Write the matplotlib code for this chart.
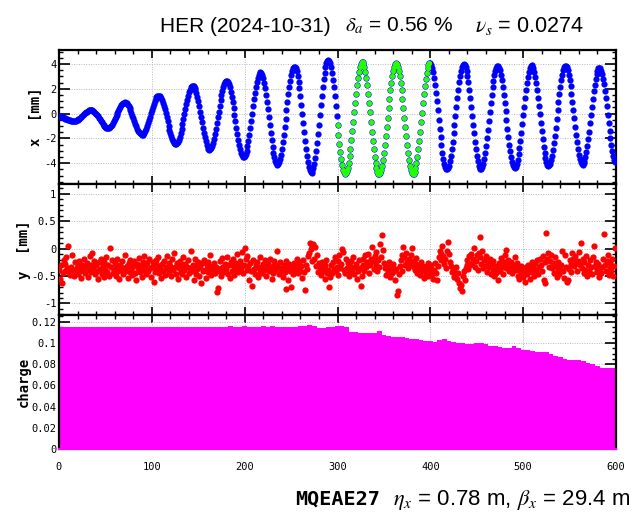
import matplotlib
matplotlib.use("Agg")
import matplotlib.pyplot as plt
import numpy as np
from matplotlib.ticker import MultipleLocator, FormatStrFormatter

# horizontal orbit per turn [mm]
x_mm = [
    -0.21, -0.23, -0.25, -0.27, -0.30, -0.33, -0.36, -0.40, -0.43, -0.46, -0.50, -0.52, -0.55, -0.57, -0.59, -0.60, -0.60,
    -0.60, -0.58, -0.55, -0.51, -0.46, -0.40, -0.33, -0.26, -0.18, -0.10, -0.03, 0.05, 0.11, 0.17, 0.22, 0.26, 0.29, 0.30,
    0.30, 0.28, 0.23, 0.17, 0.09, 0.00, -0.11, -0.22, -0.35, -0.47, -0.60, -0.71, -0.82, -0.92, -1.00, -1.07, -1.12, -1.14, -1.15,
    -1.13, -1.07, -0.99, -0.89, -0.76, -0.61, -0.45, -0.28, -0.10, 0.07, 0.24, 0.40, 0.54, 0.67, 0.77, 0.84, 0.89,
    0.90, 0.88, 0.82, 0.73, 0.60, 0.45, 0.27, 0.07, -0.15, -0.37, -0.60, -0.81, -1.02, -1.20, -1.37, -1.50, -1.60, -1.67, -1.70,
    -1.69, -1.63, -1.53, -1.38, -1.20, -0.99, -0.75, -0.50, -0.23, 0.04, 0.31, 0.56, 0.80, 1.00, 1.17, 1.31, 1.40, 1.44,
    1.44, 1.39, 1.27, 1.11, 0.89, 0.64, 0.35, 0.04, -0.29, -0.63, -0.96, -1.28, -1.57, -1.83, -2.06, -2.24, -2.36, -2.43, -2.45,
    -2.40, -2.28, -2.09, -1.85, -1.55, -1.22, -0.84, -0.45, -0.05, 0.35, 0.74, 1.11, 1.43, 1.71, 1.94, 2.11, 2.21,
    2.25, 2.21, 2.10, 1.92, 1.66, 1.35, 1.00, 0.60, 0.17, -0.27, -0.71, -1.14, -1.55, -1.92, -2.24, -2.51, -2.71, -2.84, -2.90,
    -2.88, -2.78, -2.59, -2.34, -2.02, -1.65, -1.23, -0.78, -0.31, 0.17, 0.64, 1.09, 1.50, 1.86, 2.16, 2.40, 2.56, 2.64,
    2.64, 2.55, 2.37, 2.11, 1.77, 1.37, 0.92, 0.42, -0.10, -0.62, -1.15, -1.65, -2.11, -2.53, -2.88, -3.16, -3.36, -3.48, -3.50,
    -3.42, -3.25, -2.98, -2.62, -2.20, -1.70, -1.16, -0.59, 0.00, 0.59, 1.15, 1.68, 2.16, 2.57, 2.90, 3.15, 3.30,
    3.35, 3.29, 3.13, 2.87, 2.50, 2.05, 1.54, 0.96, 0.34, -0.29, -0.93, -1.56, -2.14, -2.68, -3.15, -3.53, -3.82, -4.01, -4.10,
    -4.07, -3.92, -3.67, -3.31, -2.85, -2.32, -1.72, -1.08, -0.41, 0.27, 0.94, 1.58, 2.16, 2.67, 3.10, 3.44, 3.67, 3.78,
    3.78, 3.66, 3.41, 3.05, 2.58, 2.03, 1.39, 0.70, -0.02, -0.75, -1.48, -2.18, -2.82, -3.40, -3.89, -4.28, -4.56, -4.72, -4.75,
    -4.65, -4.41, -4.06, -3.59, -3.02, -2.36, -1.64, -0.88, -0.10, 0.68, 1.43, 2.13, 2.77, 3.31, 3.76, 4.08, 4.28,
    4.35, 4.28, 4.08, 3.75, 3.30, 2.75, 2.11, 1.40, 0.64, -0.15, -0.94, -1.71, -2.44, -3.10, -3.67, -4.15, -4.51, -4.74, -4.85,
    -4.81, -4.65, -4.36, -3.95, -3.43, -2.82, -2.14, -1.41, -0.64, 0.13, 0.89, 1.62, 2.28, 2.87, 3.36, 3.74, 4.00, 4.13,
    4.13, 4.00, 3.74, 3.35, 2.86, 2.27, 1.60, 0.87, 0.11, -0.67, -1.44, -2.18, -2.86, -3.47, -3.99, -4.40, -4.70, -4.86, -4.90,
    -4.80, -4.57, -4.22, -3.75, -3.19, -2.55, -1.84, -1.10, -0.33, 0.44, 1.18, 1.87, 2.49, 3.03, 3.47, 3.79, 3.98,
    4.05, 3.98, 3.79, 3.47, 3.03, 2.49, 1.87, 1.18, 0.44, -0.33, -1.10, -1.84, -2.55, -3.19, -3.75, -4.22, -4.57, -4.80, -4.90,
    -4.86, -4.70, -4.41, -4.00, -3.48, -2.87, -2.19, -1.46, -0.69, 0.08, 0.84, 1.57, 2.23, 2.82, 3.31, 3.69, 3.95, 4.08,
    4.08, 3.96, 3.71, 3.34, 2.87, 2.32, 1.68, 0.99, 0.26, -0.48, -1.21, -1.91, -2.56, -3.14, -3.64, -4.03, -4.31, -4.47, -4.50,
    -4.40, -4.19, -3.85, -3.41, -2.88, -2.27, -1.60, -0.89, -0.16, 0.57, 1.27, 1.93, 2.52, 3.03, 3.45, 3.75, 3.94,
    4.00, 3.94, 3.75, 3.45, 3.03, 2.52, 1.93, 1.27, 0.57, -0.16, -0.89, -1.60, -2.27, -2.88, -3.41, -3.85, -4.19, -4.40, -4.50,
    -4.47, -4.31, -4.04, -3.66, -3.18, -2.62, -1.99, -1.31, -0.60, 0.12, 0.83, 1.50, 2.12, 2.66, 3.12, 3.47, 3.71, 3.83,
    3.83, 3.71, 3.48, 3.13, 2.68, 2.15, 1.54, 0.88, 0.19, -0.52, -1.21, -1.88, -2.50, -3.05, -3.53, -3.90, -4.17, -4.32, -4.35,
    -4.26, -4.04, -3.72, -3.29, -2.78, -2.18, -1.53, -0.84, -0.13, 0.57, 1.25, 1.89, 2.46, 2.96, 3.36, 3.66, 3.84,
    3.90, 3.84, 3.66, 3.37, 2.98, 2.49, 1.93, 1.30, 0.63, -0.06, -0.76, -1.43, -2.07, -2.66, -3.16, -3.58, -3.90, -4.11, -4.20,
    -4.17, -4.02, -3.76, -3.39, -2.93, -2.38, -1.78, -1.12, -0.44, 0.26, 0.94, 1.58, 2.18, 2.70, 3.14, 3.48, 3.72, 3.83,
    3.83, 3.72, 3.49, 3.15, 2.72, 2.20, 1.61, 0.97, 0.30, -0.38, -1.06, -1.71, -2.31, -2.84, -3.30, -3.66, -3.92, -4.07, -4.10,
    -4.01, -3.81, -3.51, -3.10, -2.61, -2.05, -1.44, -0.79, -0.11, 0.55, 1.20, 1.80, 2.34, 2.81, 3.19, 3.47, 3.64,
    3.70, 3.64, 3.47, 3.20, 2.82, 2.36, 1.83, 1.23, 0.59, -0.07, -0.73, -1.37, -1.98, -2.53, -3.01, -3.41, -3.71, -3.91,
]

# vertical orbit per turn [mm]
y_mm = [
    -0.38, -0.55, -0.30, -0.62, -0.45, -0.20, -0.41, -0.28, -0.15, -0.35, 0.05, -0.42, -0.48, -0.33, -0.12, -0.39, -0.50, -0.25, -0.44, -0.36,
    -0.31, -0.47, -0.22, -0.40, -0.53, -0.29, -0.36, -0.18, -0.45, -0.33, -0.26, -0.51, -0.38, -0.14, -0.30, -0.43, -0.08, -0.35, -0.22, -0.47,
    -0.29, -0.40, -0.55, -0.25, -0.37, -0.19, -0.46, -0.31, -0.52, -0.24, -0.38, -0.15, -0.43, -0.30, -0.49, 0.02, -0.34, -0.21, -0.44, -0.37,
    -0.27, -0.50, -0.33, -0.18, -0.41, -0.56, -0.29, -0.38, -0.23, -0.46, -0.35, -0.12, -0.40, -0.31, -0.54, -0.26, -0.43, -0.20, -0.37, -0.48,
    -0.32, -0.22, -0.45, -0.58, -0.28, -0.36, -0.17, -0.42, -0.30, -0.51, -0.24, -0.39, -0.14, -0.33, -0.47, -0.27, -0.41, -0.19, -0.36, -0.52,
    -0.34, -0.25, -0.60, -0.43, -0.21, -0.38, -0.30, -0.16, -0.45, -0.35, -0.53, -0.28, -0.40, -0.22, -0.48, -0.33, -0.13, -0.37, -0.26, -0.44,
    -0.31, -0.50, -0.19, -0.39, -0.08, -0.34, -0.46, -0.27, -0.55, -0.36, -0.23, -0.42, -0.30, -0.47, -0.15, -0.38, -0.28, -0.52, -0.33, -0.21,
    -0.44, -0.36, -0.05, -0.40, -0.29, -0.57, -0.32, -0.18, -0.46, -0.37, -0.25, -0.49, -0.34, -0.62, -0.27, -0.41, -0.20, -0.38, -0.53, -0.30,
    -0.43, -0.24, -0.35, -0.11, -0.48, -0.31, -0.39, -0.26, -0.45, -0.33, -0.79, -0.72, -0.40, -0.22, -0.36, -0.50, -0.17, -0.34, -0.42, -0.28,
    -0.37, -0.15, -0.46, -0.30, -0.54, -0.25, -0.41, -0.19, -0.33, -0.48, -0.27, -0.38, -0.10, -0.43, -0.31, -0.22, -0.35, -0.06, -0.44, -0.29,
    0.02, -0.18, -0.39, -0.13, -0.32, -0.58, -0.26, -0.41, -0.68, -0.21, -0.37, -0.47, -0.30, -0.24, -0.52, -0.35, -0.42, -0.16, -0.33, -0.45,
    -0.28, -0.39, -0.21, -0.49, -0.34, -0.27, -0.40, -0.19, -0.36, -0.55, -0.31, -0.44, -0.23, -0.38, -0.29, -0.05, -0.33, -0.46, -0.25, -0.40,
    -0.35, -0.51, -0.30, -0.43, -0.22, -0.74, -0.37, -0.58, -0.28, -0.41, -0.70, -0.34, -0.47, -0.26, -0.39, -0.31, -0.18, -0.44, -0.36, -0.25,
    -0.40, -0.32, -0.53, -0.20, -0.43, -0.75, -0.29, -0.37, -0.14, -0.08, 0.10, -0.01, 0.05, -0.22, 0.08, -0.19, 0.04, -0.31, -0.12, -0.42,
    -0.27, -0.36, -0.48, -0.24, -0.40, -0.33, -0.56, -0.29, -0.21, -0.45, -0.38, -0.70, -0.52, -0.30, -0.44, -0.25, -0.37, -0.16, -0.41, -0.33,
    -0.23, -0.48, -0.12, -0.35, -0.28, 0.00, -0.06, -0.39, -0.45, -0.19, -0.36, -0.27, -0.50, -0.31, -0.42, -0.22, -0.38, -0.15, -0.46, -0.33,
    -0.28, -0.55, -0.40, -0.21, -0.36, -0.68, -0.49, -0.30, -0.19, -0.41, -0.11, -0.34, -0.25, -0.09, -0.44, -0.30, -0.18, 0.03, -0.23, -0.37,
    -0.14, -0.29, -0.06, -0.40, -0.20, -0.33, 0.08, -0.15, 0.25, -0.02, -0.27, -0.36, -0.48, -0.31, -0.43, -0.24, -0.39, -0.52, -0.33, -0.45,
    -0.28, -0.41, -0.57, -0.37, -0.84, -0.78, -0.46, -0.32, -0.21, -0.40, -0.12, 0.04, -0.16, -0.30, -0.07, -0.24, -0.35, -0.19, -0.29, -0.11,
    0.02, -0.22, -0.33, -0.26, -0.38, -0.17, -0.44, -0.29, -0.36, -0.48, -0.25, -0.41, -0.31, -0.53, -0.34, -0.46, -0.39, -0.27, -0.50, -0.43,
    -0.35, -0.30, -0.47, -0.55, -0.38, -0.26, -0.44, -0.58, -0.32, -0.15, -0.05, -0.21, -0.09, 0.05, -0.13, -0.28, -0.18, -0.36, -0.04, 0.12,
    -0.10, -0.24, -0.31, -0.43, -0.36, -0.52, -0.40, -0.47, -0.34, -0.56, -0.45, -0.62, -0.72, -0.66, -0.77, -0.50, -0.41, -0.58, -0.35, -0.29,
    -0.21, -0.37, -0.14, -0.30, -0.09, -0.26, -0.18, 0.01, -0.33, -0.22, -0.12, -0.38, -0.07, 0.22, -0.16, -0.28, -0.04, -0.35, -0.20, -0.31,
    -0.13, -0.42, -0.25, -0.33, -0.19, -0.47, -0.28, -0.38, -0.22, -0.50, -0.31, -0.44, -0.36, -0.58, -0.27, -0.40, -0.17, -0.33, -0.46, -0.24,
    -0.12, -0.35, -0.02, -0.29, -0.20, -0.41, -0.33, -0.24, -0.45, -0.37, -0.30, -0.16, -0.38, -0.27, -0.49, -0.34, -0.56, -0.40, -0.31, -0.45,
    -0.52, -0.38, -0.60, -0.33, -0.47, -0.29, -0.41, -0.55, -0.36, -0.24, -0.43, -0.32, -0.50, -0.27, -0.38, -0.21, -0.46, -0.34, -0.19, -0.30,
    -0.40, -0.14, -0.58, -0.62, -0.25, 0.28, -0.18, -0.08, -0.33, -0.22, -0.11, -0.36, -0.27, -0.44, -0.16, -0.31, -0.52, -0.38, -0.24, -0.47,
    -0.35, -0.29, -0.05, -0.41, -0.53, -0.12, -0.33, -0.60, -0.58, -0.37, -0.21, -0.43, -0.28, -0.08, -0.19, -0.32, -0.14, -0.26, -0.40, -0.22,
    -0.06, -0.30, 0.10, -0.35, -0.18, -0.45, -0.25, -0.38, -0.13, -0.50, -0.29, -0.41, -0.20, -0.34, -0.47, -0.15, 0.05, -0.31, -0.24, -0.39,
    -0.43, -0.28, -0.52, -0.36, -0.45, -0.33, -0.19, 0.27, -0.30, -0.41, -0.23, -0.11, -0.48, -0.35, -0.26, -0.40, -0.18, -0.49, -0.32, 0.01,
]

# bunch charge, sampled every 5 turns
charge_turns = list(range(0, 601, 5))
charge = [
    0.1152, 0.1150, 0.1153, 0.1149, 0.1151, 0.1146, 0.1150, 0.1152, 0.1148, 0.1151,
    0.1153, 0.1150, 0.1147, 0.1151, 0.1149, 0.1152, 0.1150, 0.1148, 0.1151, 0.1153,
    0.1150, 0.1148, 0.1151, 0.1149, 0.1152, 0.1150, 0.1146, 0.1150, 0.1153, 0.1151,
    0.1149, 0.1152, 0.1150, 0.1154, 0.1151, 0.1149, 0.1152, 0.1155, 0.1151, 0.1154,
    0.1162, 0.1153, 0.1150, 0.1154, 0.1156, 0.1153, 0.1155, 0.1152, 0.1150, 0.1154,
    0.1151, 0.1153, 0.1155, 0.1160, 0.1168, 0.1160, 0.1140, 0.1143, 0.1146, 0.1150,
    0.1156, 0.1160, 0.1152, 0.1104, 0.1100, 0.1095, 0.1092, 0.1090, 0.1098, 0.1108,
    0.1072, 0.1064, 0.1060, 0.1056, 0.1053, 0.1050, 0.1040, 0.1033, 0.1025, 0.1018,
    0.1014, 0.1012, 0.1028, 0.1037, 0.1020, 0.1006, 0.1002, 0.0997, 0.0990, 0.0993,
    0.0996, 0.0995, 0.0988, 0.0975, 0.0968, 0.0962, 0.0952, 0.0950, 0.0968, 0.0955,
    0.0935, 0.0930, 0.0922, 0.0918, 0.0915, 0.0918, 0.0900, 0.0880, 0.0865, 0.0850,
    0.0843, 0.0840, 0.0838, 0.0833, 0.0815, 0.0800, 0.0785, 0.0768, 0.0760, 0.0765,
    0.0762,
]

# turns used for the fit window
fit_first, fit_last = 300, 400

title_date = "HER (2024-10-31)"
delta_text = r"$\delta_a$ = 0.56 %"
nus_text = r"$\nu_s$ = 0.0274"
bpm_name = "MQEAE27"
optics_text = r"$\eta_x$ = 0.78 m, $\beta_x$ = 29.4 m"

plt.rcParams["mathtext.fontset"] = "stix"
plt.rcParams["axes.unicode_minus"] = False
sans = ["Liberation Sans", "DejaVu Sans"]
mono = "DejaVu Sans Mono"

turns = np.arange(len(x_mm))
x_arr = np.array(x_mm)

fig = plt.figure(figsize=(6.38, 5.13), dpi=100)
W, H = 638.0, 513.0
left, width = 59 / W, 557 / W
ax_x = fig.add_axes([left, 1 - 183.5 / H, width, 133.5 / H])
ax_y = fig.add_axes([left, 1 - 315 / H, width, 131.5 / H])
ax_q = fig.add_axes([left, 1 - 449 / H, width, 134 / H])

ax_x.plot(turns, x_arr, "o", color="#0000ff", ms=4.5, mew=0, zorder=3)
ax_x.plot(turns[fit_first:fit_last], x_arr[fit_first:fit_last], "o",
          color="#22ff00", ms=3.8, mew=0, zorder=4)
ax_x.set_ylim(-5.63, 5.13)
ax_x.yaxis.set_major_locator(MultipleLocator(2))
ax_x.yaxis.set_minor_locator(MultipleLocator(0.5))
ax_x.yaxis.set_major_formatter(FormatStrFormatter("%g"))

ax_y.plot(turns[:len(y_mm)], y_mm, "o", color="#ff0000", ms=4.5, mew=0, zorder=3)
ax_y.set_ylim(-1.21, 1.19)
ax_y.yaxis.set_major_locator(MultipleLocator(0.5))
ax_y.yaxis.set_minor_locator(MultipleLocator(0.1))
ax_y.yaxis.set_major_formatter(FormatStrFormatter("%g"))

ax_q.fill_between(charge_turns, 0, charge, step="mid", color="#ff00ff", lw=0)
ax_q.set_ylim(0, 0.1263)
ax_q.yaxis.set_major_locator(MultipleLocator(0.02))
ax_q.yaxis.set_minor_locator(MultipleLocator(0.005))
ax_q.yaxis.set_major_formatter(FormatStrFormatter("%g"))
ax_q.spines["bottom"].set_color("#ff00ff")

for ax in (ax_x, ax_y, ax_q):
    ax.set_xlim(0, 600)
    ax.xaxis.set_major_locator(MultipleLocator(100))
    ax.xaxis.set_minor_locator(MultipleLocator(20))
    ax.set_axisbelow(True)
    ax.grid(True, which="major", ls=(0, (1, 1.5)), lw=0.7, color="#b8b8b8")
    for s in ax.spines.values():
        s.set_linewidth(1.6)
    ax.tick_params(which="both", direction="in", top=True, right=True,
                   labelsize=7.5, pad=2, width=1.2)
    ax.tick_params(axis="x", which="major", length=5.5)
    ax.tick_params(axis="x", which="minor", length=2.8, width=1.0)
    ax.tick_params(axis="y", which="major", length=8)
    ax.tick_params(axis="y", which="minor", length=3.2, width=1.0)
    for lab in ax.get_xticklabels() + ax.get_yticklabels():
        lab.set_fontfamily(mono)
    if ax is not ax_q:
        ax.tick_params(axis="x", labelbottom=False)

ax_q.tick_params(axis="x", which="both", pad=9, bottom=False)

ax_x.set_ylabel("x  [mm]", family=mono, fontweight="bold", fontsize=10)
ax_x.yaxis.set_label_coords(-0.029, 0.5)
ax_y.set_ylabel("y  [mm]", family=mono, fontweight="bold", fontsize=10)
ax_y.yaxis.set_label_coords(-0.05, 0.5)
ax_q.set_ylabel("charge", family=mono, fontweight="bold", fontsize=10)
ax_q.yaxis.set_label_coords(-0.05, 0.5)

ty = 1 - 31.7 / H
fig.text(160 / W, ty, title_date, family=sans, fontsize=15, va="baseline")
fig.text(345 / W, ty, delta_text, family=sans, fontsize=15, va="baseline")
fig.text(475 / W, ty, nus_text, family=sans, fontsize=15.5, va="baseline")

by = 1 - 505 / H
fig.text(295 / W, by, bpm_name, family=mono, fontweight="bold", fontsize=14.5, va="baseline")
fig.text(393 / W, by, optics_text, family=sans, fontsize=16, va="baseline")

fig.savefig("out.png", dpi=100)
